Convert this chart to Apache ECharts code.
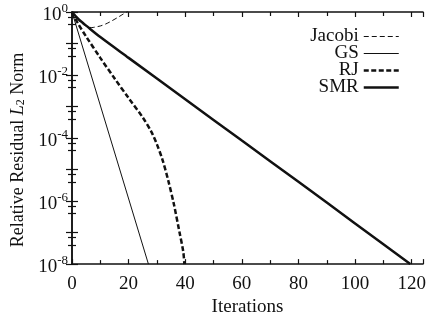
<!DOCTYPE html>
<html>
<head>
<meta charset="utf-8">
<script src="https://cdn.jsdelivr.net/npm/echarts@6/dist/echarts.min.js"></script>
<style>html,body{margin:0;padding:0;background:#fff}#c{width:436px;height:322px}</style>
</head>
<body>
<div id="c"></div>
<script>
// Data
const seriesNames = ['Jacobi', 'GS', 'RJ', 'SMR'];
const iterJacobi = [0, 1, 2, 3, 4, 5, 6, 7, 8, 10, 12, 14, 16, 18, 20, 22];
const resJacobi = [1.0, 0.75, 0.58, 0.47, 0.40, 0.36, 0.33, 0.32, 0.33, 0.36, 0.42, 0.52, 0.66, 0.85, 1.1, 1.4];
const iterGS = [0, 27];
const resGS = [1.0, 1e-8];
const iterRJ = [0, 2, 5, 10, 15, 20, 25, 28, 30, 32, 34, 36, 38, 39.3, 39.7];
const resRJ = [1.0, 0.45, 0.166, 0.035, 7.9e-3, 1.86e-3, 4.5e-4, 1.6e-4, 6.3e-5, 2.0e-5, 4.5e-6, 7.9e-7, 1.0e-7, 2.5e-8, 1e-8];
const iterSMR = [0, 1, 3, 5, 10, 20, 40, 60, 80, 100, 119.5];
const resSMR = [1.0, 0.79, 0.52, 0.37, 0.16, 0.035, 1.7e-3, 8.3e-5, 4.1e-6, 1.95e-7, 1e-8];
const xTickLabels = ['0', '20', '40', '60', '80', '100', '120'];
const yTickExponents = [0, -2, -4, -6, -8];

const pair = (xs, ys) => xs.map((x, i) => [x, ys[i]]);
const FONT = 'Liberation Serif';
const INK = '#111';

const xCommon = {
  type: 'value', min: 0, max: 124, interval: 20,
  axisLine: { show: true, lineStyle: { color: INK, width: 1.5 } },
  axisTick: { show: true, inside: true, length: 5, lineStyle: { color: INK, width: 1.2 } },
  minorTick: { show: true, splitNumber: 2, length: 4, lineStyle: { color: INK, width: 1.2 } },
  splitLine: { show: false }, minorSplitLine: { show: false }
};
const yCommon = {
  type: 'log', logBase: 10, min: 1e-8, max: 1, interval: 1,
  axisLine: { show: true, lineStyle: { color: INK, width: 1.5 } },
  axisTick: { show: true, inside: true, length: 6, lineStyle: { color: INK, width: 1.2 } },
  minorTick: { show: true, splitNumber: 3, length: 4, lineStyle: { color: INK, width: 1.2 } },
  splitLine: { show: false }, minorSplitLine: { show: false }
};

const hiddenSym = { color: 'transparent', borderColor: 'transparent', borderWidth: 0, opacity: 0 };

const chart = echarts.init(document.getElementById('c'), null, { renderer: 'canvas' });
chart.setOption({
  animation: false,
  backgroundColor: '#fff',
  textStyle: { fontFamily: FONT, color: INK },
  grid: { left: 72, right: 13, top: 12, bottom: 47, containLabel: false },
  legend: {
    data: [
      { name: seriesNames[0], lineStyle: { width: 1, type: [5, 3], color: INK }, itemStyle: hiddenSym },
      { name: seriesNames[1], lineStyle: { width: 1, type: 'solid', color: INK }, itemStyle: hiddenSym },
      { name: seriesNames[2], lineStyle: { width: 2.5, type: [5, 2.5], color: INK }, itemStyle: hiddenSym },
      { name: seriesNames[3], lineStyle: { width: 2.5, type: 'solid', color: INK }, itemStyle: hiddenSym }
    ],
    orient: 'vertical', align: 'right',
    right: 31, top: 22,
    itemWidth: 35, itemHeight: 10, itemGap: -2,
    selectedMode: false,
    itemStyle: hiddenSym,
    textStyle: { fontFamily: FONT, fontSize: 19, color: INK }
  },
  xAxis: [
    Object.assign({}, xCommon, {
      position: 'bottom',
      name: 'Iterations', nameLocation: 'middle', nameGap: 31,
      nameTextStyle: { fontFamily: FONT, fontSize: 19, color: INK },
      axisLabel: {
        show: true, margin: 10, fontFamily: FONT, fontSize: 19, color: INK,
        showMaxLabel: false,
        formatter: (v) => { const i = Math.round(v / 20); return (Math.abs(v - i * 20) < 1e-6 && xTickLabels[i] !== undefined) ? xTickLabels[i] : ''; }
      }
    }),
    Object.assign({}, xCommon, { position: 'top', axisLabel: { show: false } })
  ],
  yAxis: [
    Object.assign({}, yCommon, {
      position: 'left',
      name: 'Relative Residual {it|L}{sub|2} Norm', nameLocation: 'middle', nameGap: 40, nameRotate: 90,
      nameTextStyle: {
        fontFamily: FONT, fontSize: 18, color: INK, padding: [0, 24, 0, 0],
        rich: {
          it: { fontFamily: FONT, fontSize: 18, fontStyle: 'italic', color: INK },
          sub: { fontFamily: FONT, fontSize: 12, color: INK, padding: [6, 0, 0, 0] }
        }
      },
      axisLabel: {
        show: true, margin: 4, color: INK,
        formatter: (v) => {
          const e = Math.round(Math.log10(v));
          return yTickExponents.indexOf(e) >= 0 ? '{b|10}{s|' + e + '}' : '';
        },
        rich: {
          b: { fontFamily: FONT, fontSize: 19, color: INK, padding: [6, 0, 0, 0] },
          s: { fontFamily: FONT, fontSize: 13, color: INK, padding: [0, 0, 7, 0] }
        }
      }
    }),
    Object.assign({}, yCommon, { position: 'right', axisLabel: { show: false } })
  ],
  series: [
    { name: 'Jacobi', type: 'line', symbol: 'none', clip: true, smooth: 0.3, data: pair(iterJacobi, resJacobi),
      lineStyle: { color: INK, width: 1, type: [5, 3] }, itemStyle: { color: INK } },
    { name: 'GS', type: 'line', symbol: 'none', clip: true, data: pair(iterGS, resGS),
      lineStyle: { color: INK, width: 1, type: 'solid' }, itemStyle: { color: INK } },
    { name: 'RJ', type: 'line', symbol: 'none', clip: true, smooth: 0.3, data: pair(iterRJ, resRJ),
      lineStyle: { color: INK, width: 2.5, type: [5, 2.5] }, itemStyle: { color: INK } },
    { name: 'SMR', type: 'line', symbol: 'none', clip: true, smooth: 0.3, data: pair(iterSMR, resSMR),
      lineStyle: { color: INK, width: 2.5, type: 'solid' }, itemStyle: { color: INK } }
  ]
});
</script>
</body>
</html>
